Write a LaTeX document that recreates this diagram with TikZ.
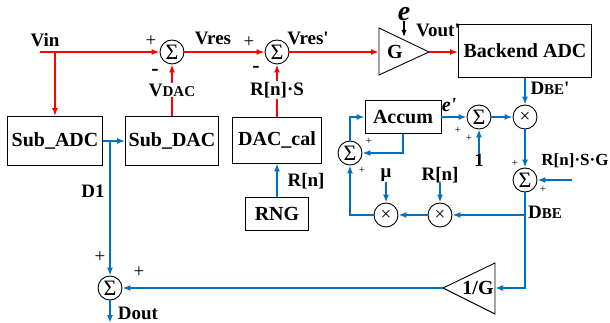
\documentclass[tikz,border=0pt]{standalone}
\usepackage{fontspec}
\setmainfont{Liberation Serif}
\usetikzlibrary{arrows.meta, calc}
\definecolor{sigred}{HTML}{FF0000}
\definecolor{digblue}{HTML}{0070C0}

\begin{document}
\begin{tikzpicture}[x=1pt, y=-1pt,
  block/.style={draw=black, line width=0.9pt, inner sep=0pt,
                font=\fontsize{20}{20}\selectfont\bfseries},
  adder/.style={draw=black, circle, line width=0.9pt, minimum size=24pt,
                inner sep=0pt, font=\fontsize{22}{22}\selectfont},
  mult/.style={adder, font=\fontsize{19}{19}\selectfont},
  lbl/.style={inner sep=0pt, font=\fontsize{19}{19}\selectfont\bfseries},
  sgn/.style={inner sep=0pt, font=\fontsize{19}{19}\selectfont},
  minisgn/.style={inner sep=0pt, font=\fontsize{11}{11}\selectfont},
  neg/.style={inner sep=0pt, font=\fontsize{22}{22}\selectfont\bfseries},
  ana/.style={-{Latex[length=8pt,width=6pt]}, color=sigred, line width=1.6pt},
  dig/.style={-{Latex[length=8pt,width=6pt]}, color=digblue, line width=1.9pt}
]
  \useasboundingbox (0,0) rectangle (610,323);

  \node[block, minimum width=95, minimum height=49] (subadc)  at (55,141)  {Sub\_ADC};
  \node[block, minimum width=93, minimum height=49] (subdac)  at (172,141) {Sub\_DAC};
  \node[block, minimum width=89, minimum height=46] (daccal)  at (277,140) {DAC\_cal};
  \node[block, minimum width=63, minimum height=33] (rng)     at (277,214) {RNG};
  \node[block, minimum width=133, minimum height=53] (backend) at (525,51) {Backend ADC};
  \node[block, minimum width=76, minimum height=33] (accum)   at (403,117) {Accum};

  \node[adder] (s1) at (172,52)  {Σ};
  \node[adder] (s2) at (277,52)  {Σ};
  \node[adder] (s3) at (479,117) {Σ};
  \node[adder] (s4) at (525,180) {Σ};
  \node[adder] (s5) at (350,153) {Σ};
  \node[adder] (s6) at (110,288) {Σ};
  \node[mult] (m1) at (525,117) {×};
  \node[mult] (m2) at (440,215) {×};
  \node[mult] (m3) at (386,215) {×};

  \draw[line width=0.9pt] (379,28) -- (429,52) -- (379,75) -- cycle;
  \node[block, draw=none] (gain) at (395,52) {G};
  \coordinate (gin)  at (379,52);
  \coordinate (gout) at (429,52);

  \draw[line width=0.9pt] (495,263) -- (443,288) -- (495,314) -- cycle;
  \node[block, draw=none] (invg) at (478,288) {1/G};
  \coordinate (invin)  at (495,288);
  \coordinate (invout) at (443,288);

  \coordinate (vin)   at (40,52);
  \coordinate (vbr)   at (55,52);
  \coordinate (d1br)  at (110,141);
  \coordinate (dout)  at (110,323);
  \coordinate (dbebr) at (525,215);
  \coordinate (rsgin) at (572,180);
  \coordinate (ein)   at (404,37);

  \node[lbl] (vinlbl)  at (45,40)   {Vin};
  \node[lbl] (vreslbl) at (213,38)  {Vres};
  \node[lbl] (vres2)   at (308,38)  {Vres\textquotesingle};
  \node[lbl] (voutlbl) at (438,30)  {Vout\textquotesingle};
  \node[inner sep=0pt, font=\fontsize{28}{28}\selectfont\bfseries\itshape] (err) at (404,14) {e};
  \node[lbl, font=\fontsize{20}{20}\selectfont\bfseries\itshape] (err2) at (449,105) {e\textquotesingle};
  \node[lbl] (d1lbl)   at (93,191)  {D1};
  \node[lbl] (doutlbl) at (138,313) {Dout};
  \node[lbl] (rnlbl)   at (306,181) {R[n]};
  \node[lbl] (one)     at (479,160) {1};
  \node[lbl] (mu)      at (386,175) {μ};
  \node[lbl] (rn2)     at (440,175) {R[n]};
  \node[lbl, font=\fontsize{17}{17}\selectfont\bfseries] (rsglbl) at (575,161) {R[n]·S·G};
  \node[lbl] (dbe2)    at (550,88)  {D{\fontsize{15}{15}\selectfont BE}\textquotesingle};
  \node[lbl] (dbe)     at (545,212) {D{\fontsize{15}{15}\selectfont BE}};

  \node[sgn] (p1) at (151,41)  {+};
  \node[sgn] (p2) at (249,42)  {+};
  \node[sgn] (p3) at (100,257) {+};
  \node[sgn] (p4) at (139,272) {+};
  \node[neg] (n1) at (155,72)  {-};
  \node[neg] (n2) at (256,69)  {-};
  \node[minisgn] (p5)  at (458,130) {+};
  \node[minisgn] (p6)  at (469,138) {+};
  \node[minisgn] (p7)  at (369,141) {+};
  \node[minisgn] (p8)  at (362,170) {+};
  \node[minisgn] (p9)  at (515,163) {+};
  \node[minisgn] (p10) at (543,189) {+};

  \draw[ana] (vin) -- (s1);
  \draw[ana] (vbr) -- (subadc.north);
  \draw[ana] (subdac.north) -- (s1.south);
  \draw[ana] (s1) -- (s2);
  \draw[ana] (daccal.north) -- (s2.south);
  \draw[ana] (s2) -- (gin);
  \draw[ana] (gout) -- (backend.west |- gout);
  \node[lbl, fill=white, inner sep=1pt] (vdac) at (172,90) {V{\fontsize{15}{15}\selectfont DAC}};
  \node[lbl, fill=white, inner sep=1pt] (rslbl) at (277,90) {R[n]·S};
  \draw[-{Latex[length=7pt,width=5pt]}, line width=1.1pt] (err.south) -- (ein);

  \draw[dig] (subadc) -- (subdac);
  \draw[dig] (d1br) -- (s6.north);
  \draw[dig] (s6.south) -- (dout);
  \draw[dig] (rng) -- (daccal);
  \draw[dig] (backend.south) -- (m1.north);
  \draw[dig] (accum) -- (s3);
  \draw[dig] (one.north) -- (s3.south);
  \draw[dig] (s3) -- (m1);
  \draw[dig] (m1) -- (s4);
  \draw[dig] (rsgin) -- (s4);
  \draw[dig] (s4.south) |- (invin);
  \draw[dig] (invout) -- (s6);
  \draw[dig] (dbebr) -- (m2);
  \draw[dig] (m2) -- (m3);
  \draw[dig] (m3.west) -| (s5.south);
  \draw[dig] (s5.north) |- (accum.west);
  \draw[dig] (accum.south) |- (s5.east);
  \draw[dig] (mu) -- (m3);
  \draw[dig] (rn2) -- (m2);
\end{tikzpicture}
\end{document}
